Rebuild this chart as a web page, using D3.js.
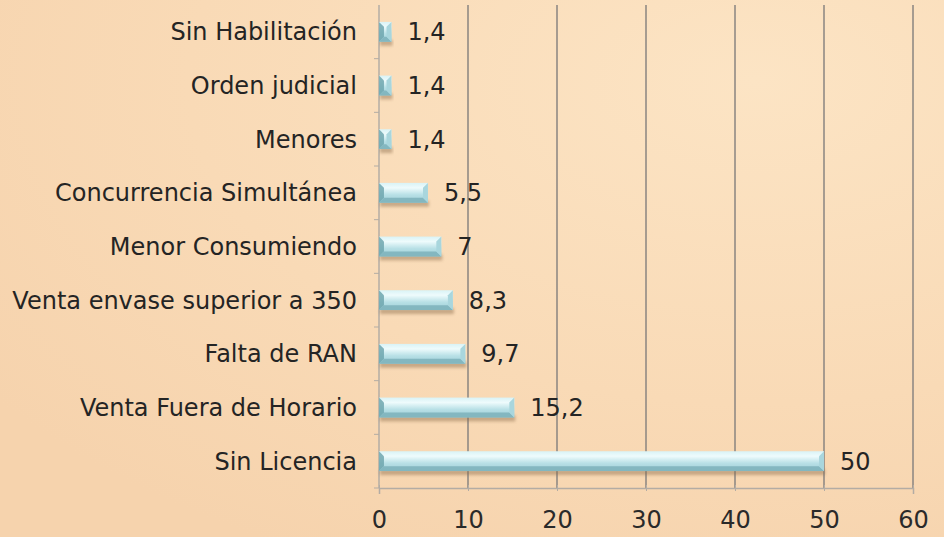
<!DOCTYPE html>
<html>
<head>
<meta charset="utf-8">
<script src="https://cdn.jsdelivr.net/npm/d3@7"></script>
<style>
  html, body { margin: 0; padding: 0; }
  body { width: 944px; height: 537px; overflow: hidden; }
  text { font-family: 'DejaVu Sans', sans-serif; }
</style>
</head>
<body>
<div id="chart"></div>
<script>
// categories top to bottom
const categories = [
  'Sin Habilitación',
  'Orden judicial',
  'Menores',
  'Concurrencia Simultánea',
  'Menor Consumiendo',
  'Venta envase superior a 350',
  'Falta de RAN',
  'Venta Fuera de Horario',
  'Sin Licencia'
]
const values = [1.4, 1.4, 1.4, 5.5, 7, 8.3, 9.7, 15.2, 50]
const valueLabels = ['1,4', '1,4', '1,4', '5,5', '7', '8,3', '9,7', '15,2', '50']
const xTicks = [0, 10, 20, 30, 40, 50, 60]

const W = 944
const H = 537
const margin = { top: 5, right: 31, bottom: 49, left: 379 }
const width = W - margin.left - margin.right
const height = H - margin.top - margin.bottom

const root = d3.select('#chart')
  .append('svg')
  .attr('width', W)
  .attr('height', H)

const defs = root.append('defs')

// background
const bg = defs.append('radialGradient')
  .attr('id', 'bg')
  .attr('cx', '0.8').attr('cy', '0.15').attr('r', '1')
bg.append('stop').attr('offset', '0%').attr('stop-color', '#fce4c4')
bg.append('stop').attr('offset', '60%').attr('stop-color', '#f9dab6')
bg.append('stop').attr('offset', '100%').attr('stop-color', '#f6d3ad')

root.append('rect').attr('width', W).attr('height', H).attr('fill', 'url(#bg)')

// bar faces
const face = defs.append('linearGradient')
  .attr('id', 'face').attr('x1', 0).attr('y1', 0).attr('x2', 0).attr('y2', 1)
face.append('stop').attr('offset', '0%').attr('stop-color', '#d9f3f6')
face.append('stop').attr('offset', '25%').attr('stop-color', '#eefbfc')
face.append('stop').attr('offset', '60%').attr('stop-color', '#b8e0e6')
face.append('stop').attr('offset', '100%').attr('stop-color', '#9ccdd5')

defs.append('filter').attr('id', 'blur')
  .attr('x', '-5%').attr('y', '-50%').attr('width', '110%').attr('height', '200%')
  .append('feGaussianBlur').attr('stdDeviation', 1.5)

const svg = root.append('g')
  .attr('transform', 'translate(' + margin.left + ',' + margin.top + ')')

const x = d3.scaleLinear().domain([0, 60]).range([0, width])
const y = d3.scaleBand().domain(categories).range([0, height]).paddingInner(0.63).paddingOuter(0.315)

// vertical gridlines
svg.selectAll('.grid')
  .data(xTicks.slice(1))
  .enter()
  .append('line')
  .attr('class', 'grid')
  .attr('x1', d => x(d)).attr('x2', d => x(d))
  .attr('y1', 0).attr('y2', height)
  .attr('stroke', '#8a8580')
  .attr('stroke-width', 1.5)

// x axis
const xAxis = d3.axisBottom(x).tickValues(xTicks).tickSize(6).tickPadding(17)
const gx = svg.append('g')
  .attr('class', 'x-axis')
  .attr('transform', 'translate(0,' + height + ')')
  .call(xAxis)
gx.select('.domain').attr('stroke', '#b3aca4').attr('stroke-width', 1.5)
gx.selectAll('.tick line').attr('stroke', '#b3aca4').attr('transform', 'translate(0,-3)')
gx.selectAll('.tick text')
  .attr('font-size', 24)
  .attr('font-family', 'DejaVu Sans, sans-serif')
  .attr('fill', '#2a2a2a')

// y axis with ticks between categories
svg.append('line')
  .attr('x1', 0).attr('x2', 0).attr('y1', 0).attr('y2', height)
  .attr('stroke', '#b3aca4').attr('stroke-width', 1.5)

const step = y.step()
svg.selectAll('.ytick')
  .data(d3.range(categories.length))
  .enter()
  .append('line')
  .attr('class', 'ytick')
  .attr('x1', -5).attr('x2', 0)
  .attr('y1', i => y(categories[i]) - y.paddingOuter() * step + step)
  .attr('y2', i => y(categories[i]) - y.paddingOuter() * step + step)
  .attr('stroke', '#b3aca4')

// category labels
svg.selectAll('.cat')
  .data(categories)
  .enter()
  .append('text')
  .attr('class', 'cat')
  .attr('x', -22)
  .attr('y', d => y(d) + y.bandwidth() / 2)
  .attr('dy', '0.35em')
  .attr('text-anchor', 'end')
  .attr('font-size', 24)
  .attr('fill', '#242424')
  .text(d => d)

const bars = svg.selectAll('.bar')
  .data(categories.map((c, i) => ({ c, v: values[i], label: valueLabels[i] })))
  .enter()
  .append('g')
  .attr('class', 'bar')
  .attr('transform', d => 'translate(0,' + y(d.c) + ')')

const bh = y.bandwidth()

// shadow
bars.append('rect')
  .attr('x', 1)
  .attr('y', bh - 2)
  .attr('width', d => x(d.v))
  .attr('height', 6)
  .attr('fill', '#8a6a4a')
  .attr('opacity', 0.45)
  .attr('filter', 'url(#blur)')

// main face
bars.append('rect')
  .attr('x', 0)
  .attr('y', 0)
  .attr('width', d => x(d.v))
  .attr('height', bh)
  .attr('fill', 'url(#face)')

// bevels
const bev = Math.min(5, bh / 4)
bars.append('path')
  .attr('fill', '#6fa6ae')
  .attr('opacity', 0.85)
  .attr('d', d => {
    const w = x(d.v)
    const b = Math.min(bev, w / 2)
    return 'M0,0 L' + b + ',' + b + ' L' + b + ',' + (bh - b) + ' L0,' + bh + 'Z'
  })
bars.append('path')
  .attr('fill', '#7fb4bc')
  .attr('opacity', 0.9)
  .attr('d', d => {
    const w = x(d.v)
    const b = Math.min(bev, w / 2)
    return 'M0,' + bh + ' L' + b + ',' + (bh - b) + ' L' + (w - b) + ',' + (bh - b) + ' L' + w + ',' + bh + 'Z'
  })
bars.append('path')
  .attr('fill', '#a9d6dd')
  .attr('d', d => {
    const w = x(d.v)
    const b = Math.min(bev, w / 2)
    return 'M' + w + ',0 L' + (w - b) + ',' + b + ' L' + (w - b) + ',' + (bh - b) + ' L' + w + ',' + bh + 'Z'
  })

// value labels
bars.append('text')
  .attr('x', d => x(d.v) + 16)
  .attr('y', bh / 2)
  .attr('dy', '0.35em')
  .attr('font-size', 24)
  .attr('fill', '#242424')
  .text(d => d.label)
</script>
</body>
</html>
